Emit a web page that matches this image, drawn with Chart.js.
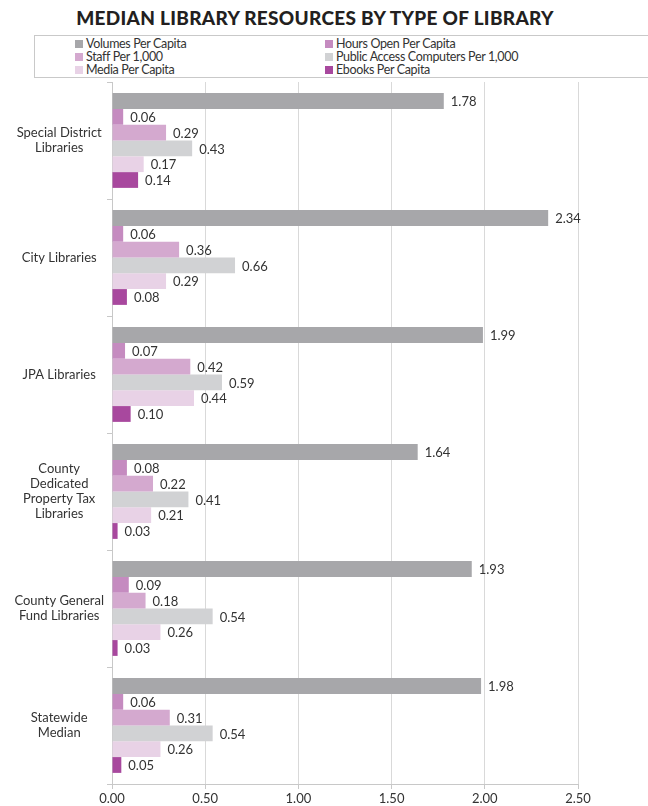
<!DOCTYPE html>
<html>
<head>
<meta charset="utf-8">
<script src="https://cdn.jsdelivr.net/npm/chart.js@4/dist/chart.umd.min.js"></script>
<style>
  html, body { margin: 0; padding: 0; background: #fff; }
  body { width: 648px; height: 806px; position: relative; overflow: hidden; font-family: Lato, "Open Sans", sans-serif; color: #333; }
  #title { position: absolute; top: 6px; left: 0; width: 630px; text-align: center; font-size: 19px; font-weight: 900; color: #231f20; letter-spacing: 0.3px; }
  #legend { position: absolute; top: 35px; left: 34px; width: 640px; height: 43px; border: 1px solid #c9c9c9; box-sizing: border-box; }
  .item { position: absolute; font-size: 12.5px; line-height: 13px; color: #333; white-space: nowrap; letter-spacing: -0.35px; }
  .item span { display: inline-block; width: 8px; height: 8px; margin-right: 3px; vertical-align: 0px; }
  #wrap { position: absolute; top: 82px; left: 0; width: 648px; height: 724px; }
</style>
</head>
<body>
<div id="title">MEDIAN LIBRARY RESOURCES BY TYPE OF LIBRARY</div>
<div id="legend"></div>
<div id="wrap"><canvas id="chart"></canvas></div>
<script>
var categories = [
  ['Special District', 'Libraries'],
  ['City Libraries'],
  ['JPA Libraries'],
  ['County', 'Dedicated', 'Property Tax', 'Libraries'],
  ['County General', 'Fund Libraries'],
  ['Statewide', 'Median']
];
var seriesNames = [
  'Volumes Per Capita',
  'Hours Open Per Capita',
  'Staff Per 1,000',
  'Public Access Computers Per 1,000',
  'Media Per Capita',
  'Ebooks Per Capita'
];
var colors = ['#a7a7aa', '#c58bc0', '#d4a9cf', '#d1d2d4', '#e8d2e6', '#a8489e'];

var volumes   = [1.78, 2.34, 1.99, 1.64, 1.93, 1.98];
var hoursOpen = [0.06, 0.06, 0.07, 0.08, 0.09, 0.06];
var staff     = [0.29, 0.36, 0.42, 0.22, 0.18, 0.31];
var computers = [0.43, 0.66, 0.59, 0.41, 0.54, 0.54];
var media     = [0.17, 0.29, 0.44, 0.21, 0.26, 0.26];
var ebooks    = [0.14, 0.08, 0.10, 0.03, 0.03, 0.05];

var xTicks = [0, 0.5, 1, 1.5, 2, 2.5];

var seriesValues = [volumes, hoursOpen, staff, computers, media, ebooks];

// legend, two columns like the original
var legend = document.getElementById('legend');
seriesNames.forEach(function (name, i) {
  var d = document.createElement('div');
  d.className = 'item';
  d.style.left = (i % 2 === 0 ? 40 : 290) + 'px';
  d.style.top = (1 + Math.floor(i / 2) * 13) + 'px';
  d.innerHTML = '<span style="background:' + colors[i] + '"></span>' + name;
  legend.appendChild(d);
});

var valueLabels = {
  id: 'valueLabels',
  afterDatasetsDraw: function (chart) {
    var ctx = chart.ctx;
    ctx.save();
    ctx.font = '13px Lato, "Open Sans", sans-serif';
    ctx.fillStyle = '#333';
    ctx.textAlign = 'left';
    ctx.textBaseline = 'middle';
    chart.data.datasets.forEach(function (ds, i) {
      chart.getDatasetMeta(i).data.forEach(function (bar, j) {
        ctx.fillText(ds.data[j].toFixed(2), bar.x + 7, bar.y + 1);
      });
    });
    ctx.restore();
  }
};

new Chart(document.getElementById('chart'), {
  type: 'bar',
  data: {
    labels: categories,
    datasets: seriesValues.map(function (vals, i) {
      return {
        label: seriesNames[i],
        data: vals,
        backgroundColor: colors[i],
        borderWidth: 0,
        categoryPercentage: 0.81,
        barPercentage: 1.0
      };
    })
  },
  options: {
    indexAxis: 'y',
    responsive: true,
    maintainAspectRatio: false,
    animation: false,
    layout: { padding: { top: 0, right: 70, left: 0, bottom: 0 } },
    plugins: {
      legend: { display: false },
      tooltip: { enabled: false }
    },
    scales: {
      x: {
        min: 0,
        max: 2.5,
        afterBuildTicks: function (scale) {
          scale.ticks = xTicks.map(function (v) { return { value: v }; });
        },
        afterFit: function (scale) { scale.height = 22; },
        grid: { color: '#d9d9d9', lineWidth: 1, tickLength: 5, tickColor: '#c8c8c8' },
        border: { color: '#c8c8c8' },
        ticks: {
          padding: 2,
          color: '#333',
          font: { family: 'Lato, "Open Sans", sans-serif', size: 13 },
          callback: function (v) { return Number(v).toFixed(2); }
        }
      },
      y: {
        afterFit: function (scale) {
          scale.width = 112;
          scale.paddingTop = 0;
          scale.paddingBottom = 0;
        },
        grid: { display: true, offset: true, drawOnChartArea: false, tickLength: 5, color: '#c8c8c8' },
        border: { color: '#c8c8c8' },
        ticks: {
          crossAlign: 'center',
          color: '#333',
          font: { family: 'Lato, "Open Sans", sans-serif', size: 13, lineHeight: 1.15 }
        }
      }
    }
  },
  plugins: [valueLabels]
});
</script>
</body>
</html>
